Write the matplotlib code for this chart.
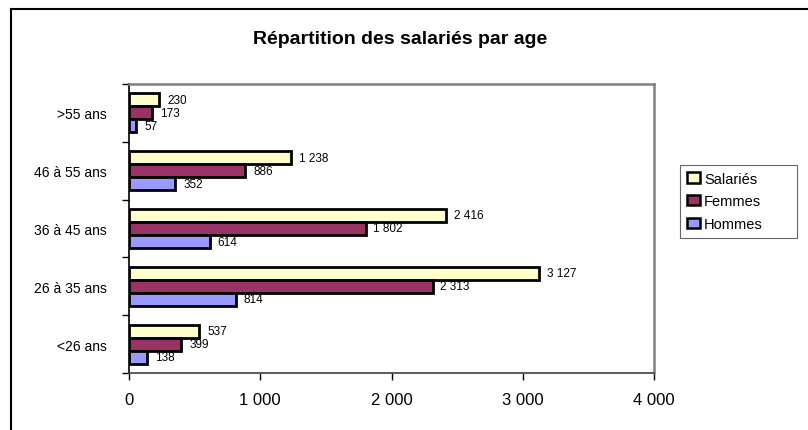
import numpy as np
import matplotlib.pyplot as plt
from matplotlib.patches import Patch
from matplotlib.lines import Line2D

plt.rcParams['font.family'] = ['Liberation Sans', 'DejaVu Sans']

categories = ['<26 ans', '26 à 35 ans', '36 à 45 ans', '46 à 55 ans', '>55 ans']
salaries = [537, 3127, 2416, 1238, 230]
femmes = [399, 2313, 1802, 886, 173]
hommes = [138, 814, 614, 352, 57]
xticks = [0, 1000, 2000, 3000, 4000]

def fmt(v):
    return f'{v:,}'.replace(',', ' ')

fig = plt.figure(figsize=(8.08, 4.31), dpi=100)
ax = fig.add_axes([129 / 808, 1 - 374 / 431, 525 / 808, 289 / 431])

y = np.arange(len(categories))
h = 0.225
series = [(salaries, '#FFFFCC', 'Salariés', h),
          (femmes, '#993366', 'Femmes', 0),
          (hommes, '#9999FF', 'Hommes', -h)]
for vals, col, name, off in series:
    bars = ax.barh(y + off, vals, height=h, color=col, edgecolor='black',
                   linewidth=2.0, label=name)
    for b, v in zip(bars, vals):
        ax.text(v + 60, b.get_y() + b.get_height() / 2, fmt(v),
                va='center', ha='left', fontsize=8.5)

ax.set_xlim(0, 4000)
ax.set_ylim(-0.5, len(categories) - 0.5)
ax.set_xticks(xticks)
ax.set_xticklabels([fmt(t) for t in xticks], fontsize=12)
ax.set_yticks(y)
ax.set_yticklabels(categories, fontsize=10)
ax.set_yticks(np.arange(-0.5, len(categories), 1), minor=True)
ax.tick_params(axis='y', which='major', length=0, pad=16)
ax.tick_params(axis='y', which='minor', length=5, width=1)
ax.tick_params(axis='x', length=5, width=1, pad=9)
for s in ['top', 'right']:
    ax.spines[s].set_color('#808080')
    ax.spines[s].set_linewidth(1.8)
ax.spines['left'].set_color('black')
ax.spines['left'].set_linewidth(1.2)
ax.spines['bottom'].set_color('#404040')
ax.spines['bottom'].set_linewidth(1.2)

fig.text(400 / 808, 1 - 40 / 431, 'Répartition des salariés par age',
         ha='center', va='center', fontsize=14, fontweight='bold')

handles = [Patch(facecolor=c, edgecolor='black', linewidth=1.8) for _, c, _, _ in series]
leg = fig.legend(handles, [n for _, _, n, _ in series],
                 loc='upper left', bbox_to_anchor=(680 / 808, 1 - 166 / 431, 117 / 808, 0),
                 mode='expand', fontsize=10.5, frameon=True, fancybox=False,
                 edgecolor='#404040', handlelength=0.9, handleheight=0.7,
                 handletextpad=0.3, borderpad=0.45, labelspacing=0.6,
                 borderaxespad=0)
leg.get_frame().set_linewidth(0.8)

# outer chart border (left and top only visible)
x0, y0 = 11 / 808, 1 - 10 / 431
fig.lines.append(Line2D([x0, x0], [0, y0], transform=fig.transFigure,
                        color='black', linewidth=1.5))
fig.lines.append(Line2D([x0, 1], [y0, y0], transform=fig.transFigure,
                        color='black', linewidth=1.5))

fig.savefig('out.png', dpi=100)
